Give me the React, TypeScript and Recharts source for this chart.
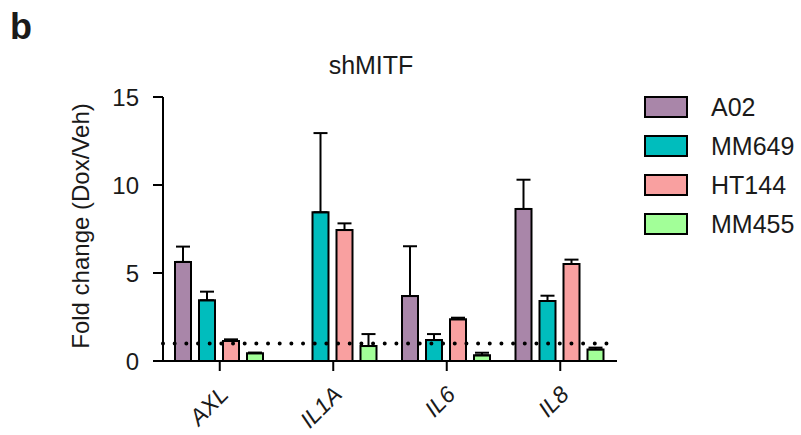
import React from 'react';
import {
  Bar,
  BarChart,
  ErrorBar,
  Label,
  ReferenceLine,
  XAxis,
  YAxis,
} from 'recharts';

const genes = ['AXL', 'IL1A', 'IL6', 'IL8'];
const seriesNames = ['A02', 'MM649', 'HT144', 'MM455'];

// mean fold change per gene, and upper SD
const a02Mean = [5.63, null, 3.69, 8.64];
const a02Err = [0.87, null, 2.83, 1.66];
const mm649Mean = [3.45, 8.45, 1.19, 3.41];
const mm649Err = [0.49, 4.5, 0.34, 0.3];
const ht144Mean = [1.14, 7.44, 2.37, 5.51];
const ht144Err = [0.09, 0.38, 0.09, 0.25];
const mm455Mean = [0.44, 0.85, 0.32, 0.66];
const mm455Err = [0.04, 0.68, 0.15, 0.1];

const yTicks = [0, 5, 10, 15];
const baseline = 1;

const colors: Record<string, string> = {
  A02: '#A986A9',
  MM649: '#00BDBD',
  HT144: '#F9A0A0',
  MM455: '#A2FF98',
};

const means = [a02Mean, mm649Mean, ht144Mean, mm455Mean];
const errs = [a02Err, mm649Err, ht144Err, mm455Err];

const data = genes.map((gene, i) => {
  const row: any = { gene };
  seriesNames.forEach((name, s) => {
    row[name] = means[s][i];
    row[name + '_err'] = errs[s][i];
  });
  return row;
});

const font = '"Liberation Sans", Arial, sans-serif';

const GeneTick = ({ x, y, payload }: any) => (
  <g transform={`translate(${x},${y})`}>
    <text
      x={10}
      y={23}
      textAnchor="end"
      transform="rotate(-45 10 23)"
      fontFamily={font}
      fontStyle="italic"
      fontSize={23}
      fill="#1a1a1a"
    >
      {payload.value}
    </text>
  </g>
);

export default function App() {
  return (
    <div style={{ position: 'absolute', left: 0, top: 0, width: 801, height: 435, background: '#fff' }}>
      <BarChart
        width={801}
        height={435}
        data={data}
        margin={{ top: 97, right: 184, bottom: 14, left: 103 }}
        barCategoryGap={12}
        barGap={8}
      >
        <ReferenceLine
          y={baseline}
          stroke="#000"
          strokeWidth={4}
          strokeDasharray="0 11.67"
          strokeLinecap="round"
        />
        <XAxis
          dataKey="gene"
          height={60}
          axisLine={{ stroke: '#000', strokeWidth: 2 }}
          tickLine={{ stroke: '#000', strokeWidth: 2 }}
          tickSize={10}
          tick={<GeneTick />}
          interval={0}
        />
        <YAxis
          width={60}
          domain={[0, 15]}
          ticks={yTicks}
          axisLine={{ stroke: '#000', strokeWidth: 2 }}
          tickLine={{ stroke: '#000', strokeWidth: 2 }}
          tickSize={10}
          tickMargin={14}
          tick={{ fontSize: 24, fill: '#1a1a1a', fontFamily: font }}
        >
          <Label
            content={() => (
              <text
                x={89}
                y={226}
                textAnchor="middle"
                transform="rotate(-90 89 226)"
                fontFamily={font}
                fontSize={24}
                fill="#1a1a1a"
              >
                Fold change (Dox/Veh)
              </text>
            )}
          />
        </YAxis>
        {seriesNames.map((name) => (
          <Bar
            key={name}
            dataKey={name}
            fill={colors[name]}
            stroke="#000"
            strokeWidth={2}
            isAnimationActive={false}
          >
            <ErrorBar
              dataKey={(d: any) => (d[name + '_err'] == null ? undefined : [0, d[name + '_err']])}
              direction="y"
              width={7}
              stroke="#000"
              strokeWidth={2}
            />
          </Bar>
        ))}
      </BarChart>
      <svg
        width={801}
        height={435}
        style={{ position: 'absolute', left: 0, top: 0, pointerEvents: 'none' }}
      >
        <text x={10} y={39} fontFamily={font} fontWeight="bold" fontSize={36} fill="#1a1a1a">
          b
        </text>
        <text x={371} y={74} textAnchor="middle" fontFamily={font} fontSize={25} fill="#1a1a1a">
          shMITF
        </text>
        {seriesNames.map((name, i) => {
          const top = 97 + i * 39;
          return (
            <g key={name}>
              <rect x={645} y={top} width={42} height={20} fill={colors[name]} stroke="#000" strokeWidth={2} />
              <text
                x={711}
                y={top + 10}
                dominantBaseline="central"
                fontFamily={font}
                fontSize={25}
                fill="#1a1a1a"
              >
                {name}
              </text>
            </g>
          );
        })}
      </svg>
    </div>
  );
}
